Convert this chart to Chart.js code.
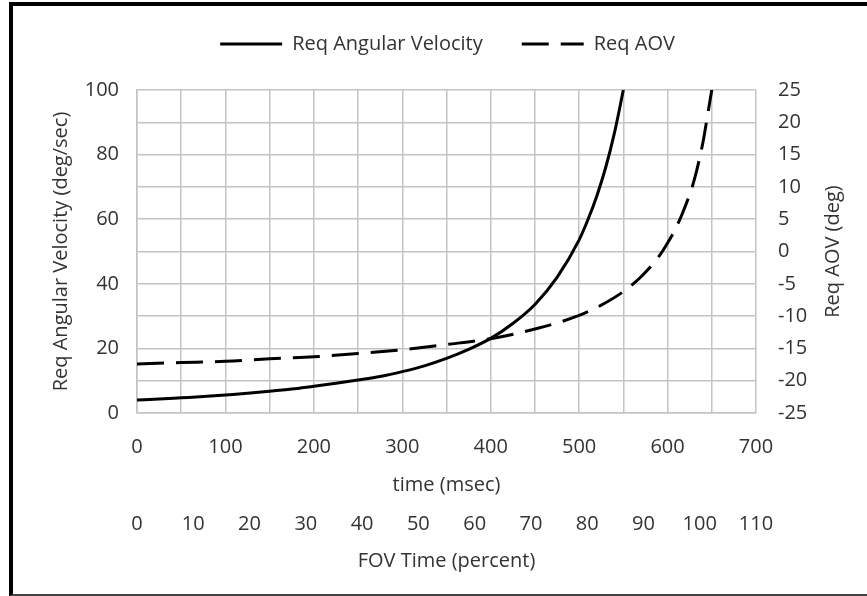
<!DOCTYPE html>
<html>
<head>
<meta charset="utf-8">
<script src="https://cdn.jsdelivr.net/npm/chart.js@4"></script>
<style>
  html, body { margin: 0; padding: 0; background: #fff; }
  #wrap { position: relative; width: 867px; height: 596px; }
  #c { position: absolute; left: 0; top: 0; }
  /* black frame round the picture (no right edge in the reference) */
  #frame {
    position: absolute; left: 9px; top: 2px; right: 0; bottom: 0;
    box-sizing: border-box; pointer-events: none;
    border-top: 4px solid #000; border-left: 4px solid #000; border-bottom: 2px solid #444;
  }
</style>
</head>
<body>
<div id="wrap">
  <canvas id="c" width="867" height="596"></canvas>
  <div id="frame"></div>
</div>
<script>
// Req Angular Velocity (deg/sec), left axis
const velTime   = [0, 25, 50, 75, 100, 125, 150, 175, 200, 225, 250, 275, 300, 325, 350, 375, 400, 425, 450, 475, 500, 510, 520, 530, 540, 550];
const velValues = [4.0, 4.3, 4.7, 5.1, 5.6, 6.1, 6.7, 7.4, 8.3, 9.2, 10.2, 11.3, 12.8, 14.6, 16.9, 19.7, 23.1, 27.7, 33.6, 42.0, 53.6, 59.9, 67.2, 76.0, 86.8, 100];

// Req AOV (deg), right axis
const aovTime   = [0, 50, 100, 150, 200, 250, 300, 350, 400, 450, 500, 525, 550, 570, 590, 600, 610, 620, 630, 640, 645, 650];
const aovValues = [-17.4, -17.2, -17.0, -16.6, -16.3, -15.8, -15.2, -14.4, -13.5, -12.0, -9.9, -8.3, -6.2, -3.9, -0.8, 1.3, 3.8, 7.0, 11.0, 16.9, 20.9, 25];

// axis ranges
const timeRange = [0, 700];     // msec
const pctRange  = [0, 110];     // FOV time percent
const velRange  = [0, 100];
const aovRange  = [-25, 25];

const TEXT = '#333';
const GRID = '#c4c4c4';
const FONT = { family: "'Open Sans', sans-serif", size: 20 };

Chart.defaults.font.family = FONT.family;
Chart.defaults.color = TEXT;

function toPoints(xs, ys) {
  return xs.map((x, i) => ({ x: x, y: ys[i] }));
}

// right axis title reads bottom-to-top like the left one
const rightTitle = {
  id: 'rightTitle',
  afterDraw(chart) {
    const { ctx, chartArea } = chart;
    const s = chart.scales.y1;
    ctx.save();
    ctx.translate(s.right - 34, (chartArea.top + chartArea.bottom) / 2);
    ctx.rotate(-Math.PI / 2);
    ctx.font = `${FONT.size}px ${FONT.family}`;
    ctx.fillStyle = TEXT;
    ctx.textAlign = 'center';
    ctx.textBaseline = 'middle';
    ctx.fillText('Req AOV (deg)', 0, 0);
    ctx.restore();
  }
};

new Chart(document.getElementById('c'), {
  type: 'line',
  data: {
    datasets: [
      {
        label: 'Req Angular Velocity',
        data: toPoints(velTime, velValues),
        borderColor: '#000',
        backgroundColor: '#000',
        borderWidth: 3,
        pointRadius: 0,
        cubicInterpolationMode: 'monotone',
        xAxisID: 'x',
        yAxisID: 'y'
      },
      {
        label: 'Req AOV',
        data: toPoints(aovTime, aovValues),
        borderColor: '#000',
        backgroundColor: '#000',
        borderWidth: 3,
        borderDash: [27, 12],
        pointRadius: 0,
        cubicInterpolationMode: 'monotone',
        xAxisID: 'x',
        yAxisID: 'y1'
      }
    ]
  },
  options: {
    responsive: false,
    animation: false,
    layout: { padding: { left: 28, right: 0, top: -5, bottom: 19 } },
    plugins: {
      legend: {
        weight: 3000,
        labels: {
          usePointStyle: true,
          pointStyle: 'line',
          pointStyleWidth: 62,
          boxHeight: 2,
          padding: 39,
          color: TEXT,
          font: FONT,
          // point-style legend takes the point options, so put the line dash back
          generateLabels(chart) {
            const items = Chart.defaults.plugins.legend.labels.generateLabels(chart);
            items.forEach((it, i) => {
              const ds = chart.data.datasets[i];
              it.lineDash = ds.borderDash || [];
              it.lineWidth = ds.borderWidth;
              it.strokeStyle = ds.borderColor;
            });
            return items;
          }
        }
      },
      // empty title used only as a spacer under the legend
      title: { display: true, text: '', padding: { top: 8, bottom: 8 }, font: { size: 10, lineHeight: 1 } },
      tooltip: { enabled: false }
    },
    scales: {
      x: {
        type: 'linear',
        position: 'bottom',
        min: timeRange[0], max: timeRange[1],
        ticks: {
          stepSize: 50, autoSkip: false, maxRotation: 0, padding: 22,
          color: TEXT, font: FONT,
          callback: v => (v % 100 === 0 ? v : '')
        },
        grid: { color: GRID, lineWidth: 1.5, drawTicks: false },
        border: { color: GRID, width: 1.5 },
        title: { display: true, text: 'time (msec)', color: TEXT, font: FONT, padding: { top: 0, bottom: 4 } },
        afterFit(s) { s.height = 88; }
      },
      x2: {
        type: 'linear',
        position: 'bottom',
        min: pctRange[0], max: pctRange[1],
        ticks: { stepSize: 10, autoSkip: false, maxRotation: 0, padding: 11, color: TEXT, font: FONT },
        grid: { display: false, drawTicks: false },
        border: { display: false },
        title: { display: true, text: 'FOV Time (percent)', color: TEXT, font: FONT, padding: { top: 0, bottom: 4 } },
        afterFit(s) { s.height = 76; }
      },
      y: {
        position: 'left',
        min: velRange[0], max: velRange[1],
        ticks: {
          stepSize: 10, padding: 18, color: TEXT, font: FONT,
          callback: v => (v % 20 === 0 ? v : '')
        },
        grid: { color: GRID, lineWidth: 1.5, drawTicks: false },
        border: { color: GRID, width: 1.5 },
        title: { display: true, text: 'Req Angular Velocity (deg/sec)', color: TEXT, font: FONT, padding: { top: 21, bottom: 0 } },
        afterFit(s) { s.width = 109; }
      },
      y1: {
        position: 'right',
        min: aovRange[0], max: aovRange[1],
        ticks: { stepSize: 5, padding: 22, color: TEXT, font: FONT },
        grid: { drawOnChartArea: false, drawTicks: false },
        border: { display: false },
        afterFit(s) { s.width = 111; }
      }
    }
  },
  plugins: [rightTitle]
});
</script>
</body>
</html>
